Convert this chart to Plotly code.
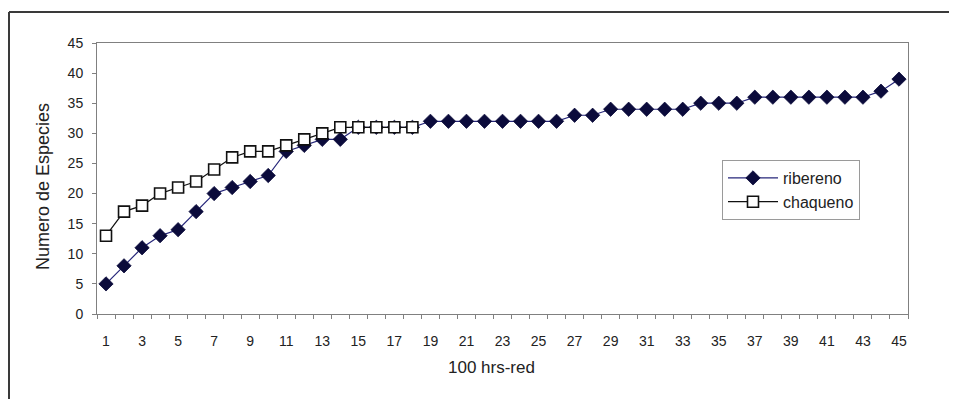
import plotly.graph_objects as go

# Data
horas = list(range(1, 46))
ribereno = [5, 8, 11, 13, 14, 17, 20, 21, 22, 23, 27, 28, 29, 29, 31, 31, 31, 31,
            32, 32, 32, 32, 32, 32, 32, 32, 33, 33, 34, 34, 34, 34, 34, 35, 35, 35,
            36, 36, 36, 36, 36, 36, 36, 37, 39]
chaqueno_x = list(range(1, 19))
chaqueno = [13, 17, 18, 20, 21, 22, 24, 26, 27, 27, 28, 29, 30, 31, 31, 31, 31, 31]
x_tick_vals = list(range(1, 46, 2))
x_tick_text = [str(v) for v in x_tick_vals]
y_tick_vals = list(range(0, 46, 5))

# page body has an 8px margin; work in window pixel coords and shift
OFF = 8
W, H = 957 - 2 * OFF, 407 - 2 * OFF
L, R, T, B = 97 - OFF, 908 - OFF, 43 - OFF, 314 - OFF
pw, ph = R - L, B - T


def px(x):
    return (x - OFF - L) / pw


def py(y):
    return (B - (y - OFF)) / ph


FONT = "Liberation Sans, Arial, sans-serif"

fig = go.Figure()
fig.add_trace(go.Scatter(
    x=horas, y=ribereno, name="ribereno", mode="lines+markers",
    line=dict(color="#26267a", width=1.2),
    marker=dict(symbol="diamond", size=11, color="#0b0b3b",
                line=dict(color="#0b0b3b", width=0.8)),
))
fig.add_trace(go.Scatter(
    x=chaqueno_x, y=chaqueno, name="chaqueno", mode="lines+markers",
    line=dict(color="#111111", width=1.2),
    marker=dict(symbol="square", size=11, color="white",
                line=dict(color="#111111", width=1.6)),
))

fig.update_layout(
    width=W, height=H,
    margin=dict(l=L, r=W - R, t=T, b=H - B),
    paper_bgcolor="white", plot_bgcolor="white",
    font=dict(family=FONT, color="#222222"),
    showlegend=True,
    legend=dict(
        x=px(722), y=py(160), xanchor="left", yanchor="top",
        bordercolor="#9a9a9a", borderwidth=1, bgcolor="white",
        font=dict(family=FONT, size=16, color="#222222"),
        itemwidth=50, tracegroupgap=0,
    ),
    xaxis=dict(
        range=[0.5, 45.5], tickmode="array", tickvals=x_tick_vals,
        ticktext=x_tick_text, ticks="", showgrid=False, zeroline=False,
        showline=True, linecolor="#808080", linewidth=1, mirror=True,
        tickfont=dict(family=FONT, size=14, color="#222222"),
        ticklabelstandoff=14,
        minor=dict(tickmode="array", tickvals=[i + 0.5 for i in range(0, 46)],
                   ticks="outside", ticklen=4, tickcolor="#808080",
                   showgrid=False),
    ),
    yaxis=dict(
        range=[0, 45], tickmode="array", tickvals=y_tick_vals,
        ticks="outside", ticklen=4, tickcolor="#808080",
        showgrid=False, zeroline=False,
        showline=True, linecolor="#808080", linewidth=1, mirror=True,
        tickfont=dict(family=FONT, size=14, color="#222222"),
        ticklabelstandoff=6,
    ),
    annotations=[
        dict(text="Numero de Especies", xref="paper", yref="paper",
             x=px(43), y=py(187), textangle=-90, showarrow=False,
             xanchor="center", yanchor="middle",
             font=dict(family=FONT, size=18, color="#222222")),
        dict(text="100 hrs-red", xref="paper", yref="paper",
             x=px(491), y=py(367), showarrow=False,
             xanchor="center", yanchor="middle",
             font=dict(family=FONT, size=17, color="#222222")),
    ],
    shapes=[
        dict(type="line", xref="paper", yref="paper",
             x0=px(9), x1=px(960), y0=py(12), y1=py(12),
             line=dict(color="#3a3a3a", width=2)),
        dict(type="line", xref="paper", yref="paper",
             x0=px(9), x1=px(9), y0=py(12), y1=py(410),
             line=dict(color="#3a3a3a", width=2)),
    ],
)

fig.write_html("out.html")
